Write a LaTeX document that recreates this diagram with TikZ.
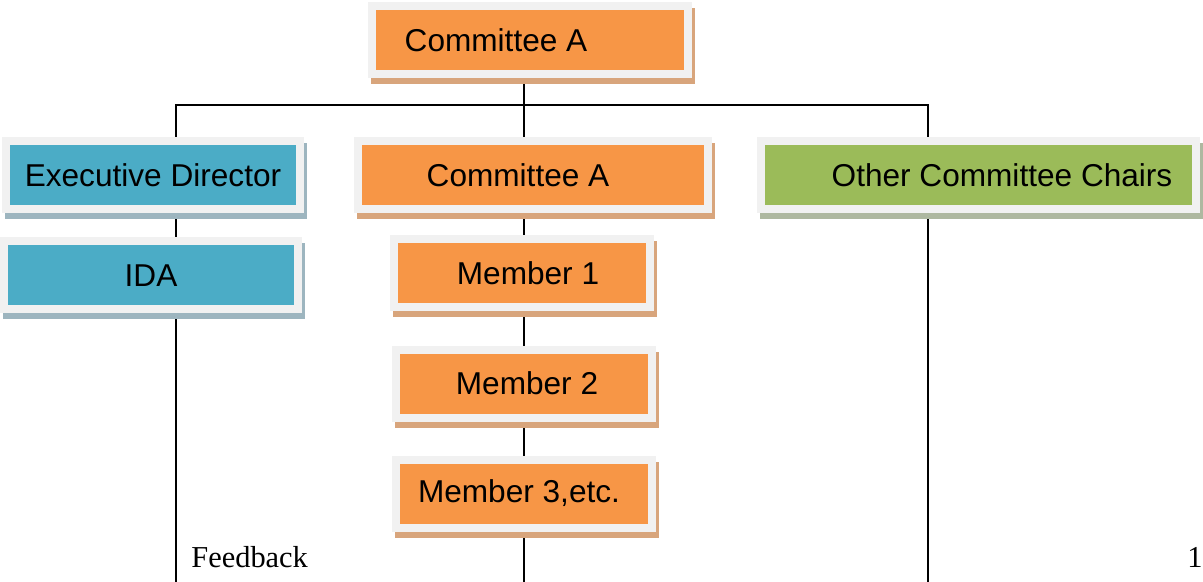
\documentclass[tikz,border=0pt]{standalone}
\usepackage{fontspec}
\setmainfont{Liberation Serif}
\newfontfamily\boxfont{Liberation Sans}
\usetikzlibrary{shadows, backgrounds}
\definecolor{boxorange}{HTML}{F79646}
\definecolor{boxteal}{HTML}{4BACC6}
\definecolor{boxgreen}{HTML}{9BBB59}
\definecolor{framegray}{HTML}{F1F1F1}
\definecolor{orangeshade}{HTML}{D8A57C}
\definecolor{tealshade}{HTML}{9DB5BF}
\definecolor{greenshade}{HTML}{AEB8A0}
\tikzset{
  orgbox/.style={draw=framegray, line width=4pt, minimum height=34pt, inner sep=0pt,
    font=\boxfont\fontsize{15.8}{19}\selectfont,
    drop shadow={shadow xshift=1.5pt, shadow yshift=-3pt, opacity=1, fill=#1, draw=#1}},
  orangebox/.style={orgbox=orangeshade, fill=boxorange},
  tealbox/.style={orgbox=tealshade, fill=boxteal},
  greenbox/.style={orgbox=greenshade, fill=boxgreen},
  treeline/.style={line width=1pt}
}

\begin{document}
\begin{tikzpicture}[x=0.5pt, y=-0.5pt]
\useasboundingbox (0,0) rectangle (1203,582);
\node[orangebox, minimum width=158pt] (top) at (530,40) {\hspace*{-34pt}Committee A};
\node[tealbox, minimum width=147pt] (exec) at (153,175) {Executive Director};
\node[orangebox, minimum width=175pt] (comA) at (533,175) {\hspace*{-15pt}Committee A};
\node[greenbox, minimum width=217.5pt] (other) at (978.5,175) {\hspace*{23.5pt}Other Committee Chairs};
\node[tealbox, minimum width=147pt] (ida) at (151,275.5) {IDA};
\node[orangebox, minimum width=128pt] (mem1) at (522,273.5) {\hspace*{6pt}Member 1};
\node[orangebox, minimum width=128pt] (mem2) at (524,383.5) {\hspace*{3pt}Member 2};
\node[orangebox, minimum width=128pt] (mem3) at (524,493.5) {\hspace*{-5pt}Member 3,etc.};
\coordinate (busL) at (176,105);
\coordinate (busR) at (928,105);
\coordinate (endL) at (176,582);
\coordinate (endM) at (524,582);
\coordinate (endR) at (928,582);
\begin{scope}[on background layer]
\draw[treeline] (top.center -| endM) -- (endM);
\draw[treeline] (endL) -- (busL) -- (busR) -- (endR);
\end{scope}
\node[anchor=base west, inner sep=0pt, font=\fontsize{15.2}{18}\selectfont] (fb) at (191,567) {Feedback};
% page number
\node[anchor=base west, inner sep=0pt, font=\fontsize{15.2}{18}\selectfont] (pg) at (1187,567) {1};
\end{tikzpicture}
\end{document}
